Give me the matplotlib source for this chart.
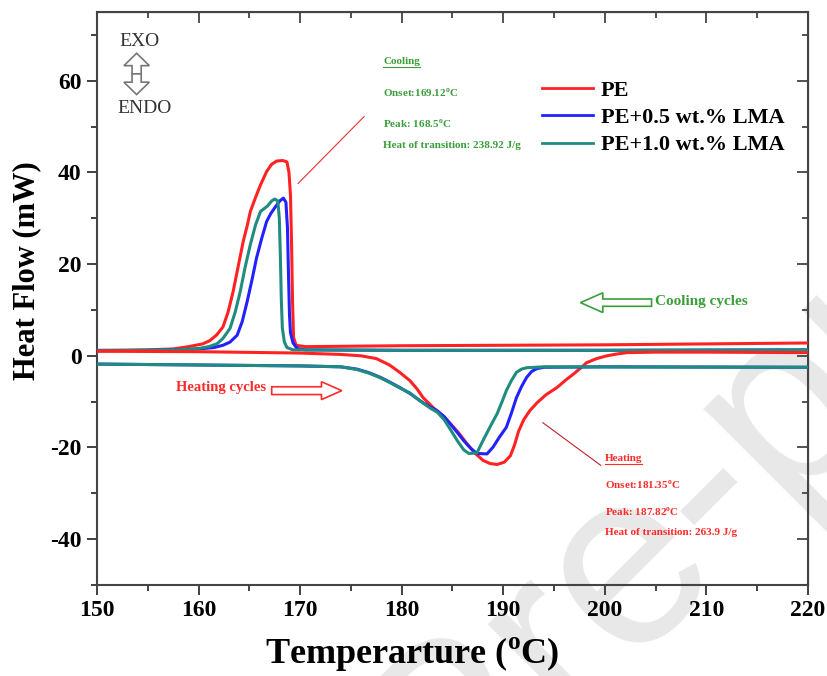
import numpy as np
import matplotlib
matplotlib.use("Agg")
import matplotlib.pyplot as plt
from matplotlib.patches import FancyArrow
from matplotlib.ticker import MultipleLocator

plt.rcParams['font.family'] = ['Liberation Serif', 'DejaVu Serif']
plt.rcParams['mathtext.fontset'] = 'custom'
plt.rcParams['mathtext.rm'] = 'Liberation Serif'
plt.rcParams['mathtext.bf'] = 'Liberation Serif:bold'
plt.rcParams['axes.unicode_minus'] = False

# cooling cycle (exotherm), temperature in C / heat flow in mW
t_pe_cool = [150, 155, 157.5, 159, 160.4, 161.1, 161.8, 162.4, 162.9, 163.4, 163.9, 164.4,
             164.8, 165.1, 165.6, 166.1, 166.7, 167.2, 167.7, 168.3, 168.7, 168.9, 169.05,
             169.15, 169.25, 169.35, 169.6, 170.5, 180, 190, 200, 210, 220]
h_pe_cool = [1.2, 1.3, 1.5, 2.0, 2.6, 3.3, 4.6, 6.3, 9.5, 14, 19.5, 25,
             28.5, 31.5, 34.5, 37.3, 40.2, 41.8, 42.5, 42.6, 42.3, 40, 35,
             25, 12, 4, 2.3, 2.0, 2.2, 2.3, 2.4, 2.6, 2.8]

t_05_cool = [150, 155, 158, 160, 161.5, 162.4, 163.1, 163.8, 164.3, 164.8, 165.3, 165.7,
             166.2, 166.7, 167.1, 167.5, 168.0, 168.35, 168.6, 168.75, 168.85, 168.95,
             169.05, 169.3, 169.7, 170.5, 180, 200, 220]
h_05_cool = [1.1, 1.2, 1.3, 1.5, 1.8, 2.3, 3.0, 4.5, 7.5, 12, 17, 21.3,
             25.5, 29.3, 31, 32.3, 33.8, 34.4, 33.5, 28, 18, 9,
             5, 2.8, 1.6, 1.3, 1.2, 1.2, 1.3]

t_10_cool = [150, 155, 158, 160, 161, 161.8, 162.4, 163.1, 163.6, 164.1, 164.6, 165.1,
             165.6, 166.1, 166.8, 167.2, 167.5, 167.8, 167.95, 168.05, 168.15, 168.25,
             168.45, 168.7, 169.3, 180, 200, 220]
h_10_cool = [1.1, 1.2, 1.3, 1.6, 2.0, 2.6, 3.8, 6.0, 9.5, 14, 19.5, 24.3,
             28.5, 31.5, 32.7, 33.8, 34.2, 33.8, 30, 22, 12, 6,
             3, 1.8, 1.3, 1.2, 1.2, 1.3]

# heating cycle (endotherm)
t_pe_heat = [150, 160, 170, 174, 176, 177.5, 178.8, 179.8, 180.8, 181.5, 182.1, 183.1, 184,
             184.8, 185.6, 186.4, 187.2, 188, 188.7, 189.4, 190.1, 190.7, 191.1, 191.5,
             192.0, 192.6, 193.3, 194.2, 195.3, 196.2, 196.9, 197.6, 198.2, 199.2, 200.2,
             201.2, 202.2, 205, 210, 220]
h_pe_heat = [1.0, 0.9, 0.6, 0.3, 0.0, -0.6, -2.0, -3.6, -5.4, -7.2, -9.1, -11.3, -13,
             -14.8, -16.8, -19.1, -21.2, -22.8, -23.5, -23.7, -23.2, -21.8, -19.5, -16.5,
             -14, -12, -10.3, -8.5, -6.9, -5.2, -4.0, -2.7, -1.5, -0.6, 0.0,
             0.4, 0.7, 0.8, 0.8, 0.7]

t_05_heat = [150, 160, 170, 174, 175.6, 176.8, 177.9, 178.8, 179.8, 180.8, 181.8, 182.6,
             183.5, 184.2, 184.8, 185.5, 186.1, 186.8, 187.4, 188.4, 189.0, 189.6, 190.3,
             190.8, 191.3, 191.8, 192.3, 192.8, 193.3, 194, 200, 220]
h_05_heat = [-1.8, -2.0, -2.2, -2.4, -2.9, -3.7, -4.7, -5.7, -6.9, -8.2, -9.8, -10.9,
             -12.0, -13.3, -14.9, -16.8, -18.5, -20.2, -21.3, -21.4, -19.9, -17.8, -15.6,
             -12.5, -9.1, -6.7, -4.7, -3.4, -2.8, -2.5, -2.4, -2.5]

t_10_heat = [150, 160, 170, 174, 175.6, 176.8, 177.9, 178.8, 179.8, 180.8, 182.1, 182.8,
             183.5, 184.2, 184.8, 185.5, 186.1, 186.6, 187.4, 188.0, 188.7, 189.4, 189.9,
             190.3, 190.8, 191.3, 191.8, 192.3, 194, 220]
h_10_heat = [-1.8, -2.0, -2.2, -2.4, -3.0, -3.8, -4.8, -5.8, -7.0, -8.1, -10.3, -11.4,
             -12.3, -14.0, -16.1, -18.6, -20.5, -21.3, -21.2, -18.5, -15.5, -12.6, -9.9,
             -7.6, -5.4, -3.6, -2.9, -2.6, -2.4, -2.5]

labels = ['PE', 'PE+0.5 wt.% LMA', 'PE+1.0 wt.% LMA']
colors = ['#ff2222', '#2222ff', '#1f8c7f']
green = '#3a9e3a'
red_txt = '#ff2a2a'

fig = plt.figure(figsize=(8.27, 6.76), dpi=100)
ax = fig.add_axes([0.1173, 0.1346, 0.8597, 0.8476])
ax.set_facecolor('none')

# journal watermark, behind everything
fig.text(0.93, 0.38, 'Pre-proof', fontsize=180, color='#e8e8e8', rotation=45,
         family='Liberation Sans', ha='center', va='center', zorder=-5)

lw = 2.2
ax.plot(t_pe_cool, h_pe_cool, color=colors[0], lw=lw, label=labels[0], zorder=3)
ax.plot(t_05_cool, h_05_cool, color=colors[1], lw=lw, label=labels[1], zorder=3)
ax.plot(t_10_cool, h_10_cool, color=colors[2], lw=lw, label=labels[2], zorder=3)
ax.plot(t_pe_heat, h_pe_heat, color=colors[0], lw=lw, zorder=3)
ax.plot(t_05_heat, h_05_heat, color=colors[1], lw=lw, zorder=3)
ax.plot(t_10_heat, h_10_heat, color=colors[2], lw=lw, zorder=3)

ax.set_xlim(150, 220)
ax.set_ylim(-50, 75)
ax.xaxis.set_major_locator(MultipleLocator(10))
ax.xaxis.set_minor_locator(MultipleLocator(5))
ax.yaxis.set_major_locator(MultipleLocator(20))
ax.yaxis.set_minor_locator(MultipleLocator(10))
ax.set_yticks([-40, -20, 0, 20, 40, 60])
ax.tick_params(which='both', direction='out', width=1.3, colors='#333333', labelcolor='black')
ax.tick_params(which='major', length=7, labelsize=17, pad=4)
ax.tick_params(which='minor', length=4)
for lab in ax.get_xticklabels() + ax.get_yticklabels():
    lab.set_fontweight('bold')
for sp in ax.spines.values():
    sp.set_linewidth(1.5)
    sp.set_color('#444444')

# mirrored ticks on top/right pointing inward
top = ax.secondary_xaxis('top')
top.xaxis.set_major_locator(MultipleLocator(10))
top.xaxis.set_minor_locator(MultipleLocator(5))
top.tick_params(which='both', direction='in', labeltop=False, width=1.3, colors='#444444')
top.tick_params(which='major', length=8)
top.tick_params(which='minor', length=4)
right = ax.secondary_yaxis('right')
right.yaxis.set_major_locator(MultipleLocator(20))
right.yaxis.set_minor_locator(MultipleLocator(10))
right.tick_params(which='both', direction='in', labelright=False, width=1.3, colors='#444444')
right.tick_params(which='major', length=8)
right.tick_params(which='minor', length=4)

ax.set_xlabel(r'Temperarture ($^{\mathbf{o}}$C)', fontsize=26, fontweight='bold')
ax.set_ylabel('Heat Flow (mW)', fontsize=22, fontweight='bold')
ax.xaxis.set_label_coords(0.443, -0.087)
ax.yaxis.set_label_coords(-0.078, 0.548)

leg = ax.legend(loc='upper left', bbox_to_anchor=(0.61, 0.9), frameon=False,
                prop={'weight': 'bold', 'size': 16}, handlelength=2.3,
                handletextpad=0.35, labelspacing=0.3, borderpad=0)
for line in leg.get_lines():
    line.set_linewidth(2)

# EXO / ENDO marker
ax.text(154.2, 68.5, 'EXO', fontsize=14, ha='center', va='center', color='#333333')
ax.text(154.7, 53.9, 'ENDO', fontsize=14, ha='center', va='center', color='#333333')
ax.add_patch(FancyArrow(153.9, 61.5, 0, 4.5, width=0.9, head_width=2.5, head_length=2.7,
                        length_includes_head=True, facecolor='white', edgecolor='#777777', lw=1.2))
ax.add_patch(FancyArrow(153.9, 61.5, 0, -4.5, width=0.9, head_width=2.5, head_length=2.7,
                        length_includes_head=True, facecolor='white', edgecolor='#777777', lw=1.2))

# cooling annotation
cool_lines = ['Onset:169.12$^{\\mathbf{o}}$C', 'Peak: 168.5$^{\\mathbf{o}}$C',
              'Heat of transition: 238.92 J/g']
cool_y = [57.4, 50.7, 45.9]
tc = ax.text(178.2, 64.1, 'Cooling', fontsize=8, fontweight='bold', color=green, va='center')
for s, yy in zip(cool_lines, cool_y):
    ax.text(178.2, yy, s, fontsize=8, fontweight='bold', color=green, va='center')
ax.plot([169.8, 176.3], [37.6, 52.2], color='#e83030', lw=0.8)

# heating annotation
heat_lines = ['Onset:181.35$^{\\mathbf{o}}$C', 'Peak: 187.82$^{\\mathbf{o}}$C',
              'Heat of transition: 263.9 J/g']
heat_y = [-28.0, -34.1, -38.5]
th = ax.text(200.0, -22.4, 'Heating', fontsize=8, fontweight='bold', color=red_txt, va='center')
for s, yy in zip(heat_lines, heat_y):
    ax.text(200.0, yy, s, fontsize=8, fontweight='bold', color=red_txt, va='center')
ax.plot([193.9, 199.6], [-14.6, -23.9], color='#c02030', lw=0.8)

# underline the two headings
fig.canvas.draw()
inv = ax.transData.inverted()
for t, c in [(tc, green), (th, red_txt)]:
    bb = t.get_window_extent()
    (x0, y0), (x1, _) = inv.transform([(bb.x0, bb.y0), (bb.x1, bb.y0)])
    ax.plot([x0, x1], [y0 - 0.2, y0 - 0.2], color=c, lw=0.8)

# cycle direction arrows
ax.text(157.8, -6.9, 'Heating cycles', fontsize=10.5, fontweight='bold', color=red_txt, va='center')
ax.add_patch(FancyArrow(167.2, -7.6, 6.9, 0, width=1.7, head_width=3.9, head_length=2.0,
                        length_includes_head=True, facecolor='white', edgecolor=red_txt, lw=1.2))
ax.text(204.9, 11.8, 'Cooling cycles', fontsize=11, fontweight='bold', color=green, va='center')
ax.add_patch(FancyArrow(204.6, 11.6, -7.0, 0, width=1.6, head_width=4.3, head_length=2.2,
                        length_includes_head=True, facecolor='white', edgecolor=green, lw=1.2))

fig.savefig('out.png', dpi=100)
